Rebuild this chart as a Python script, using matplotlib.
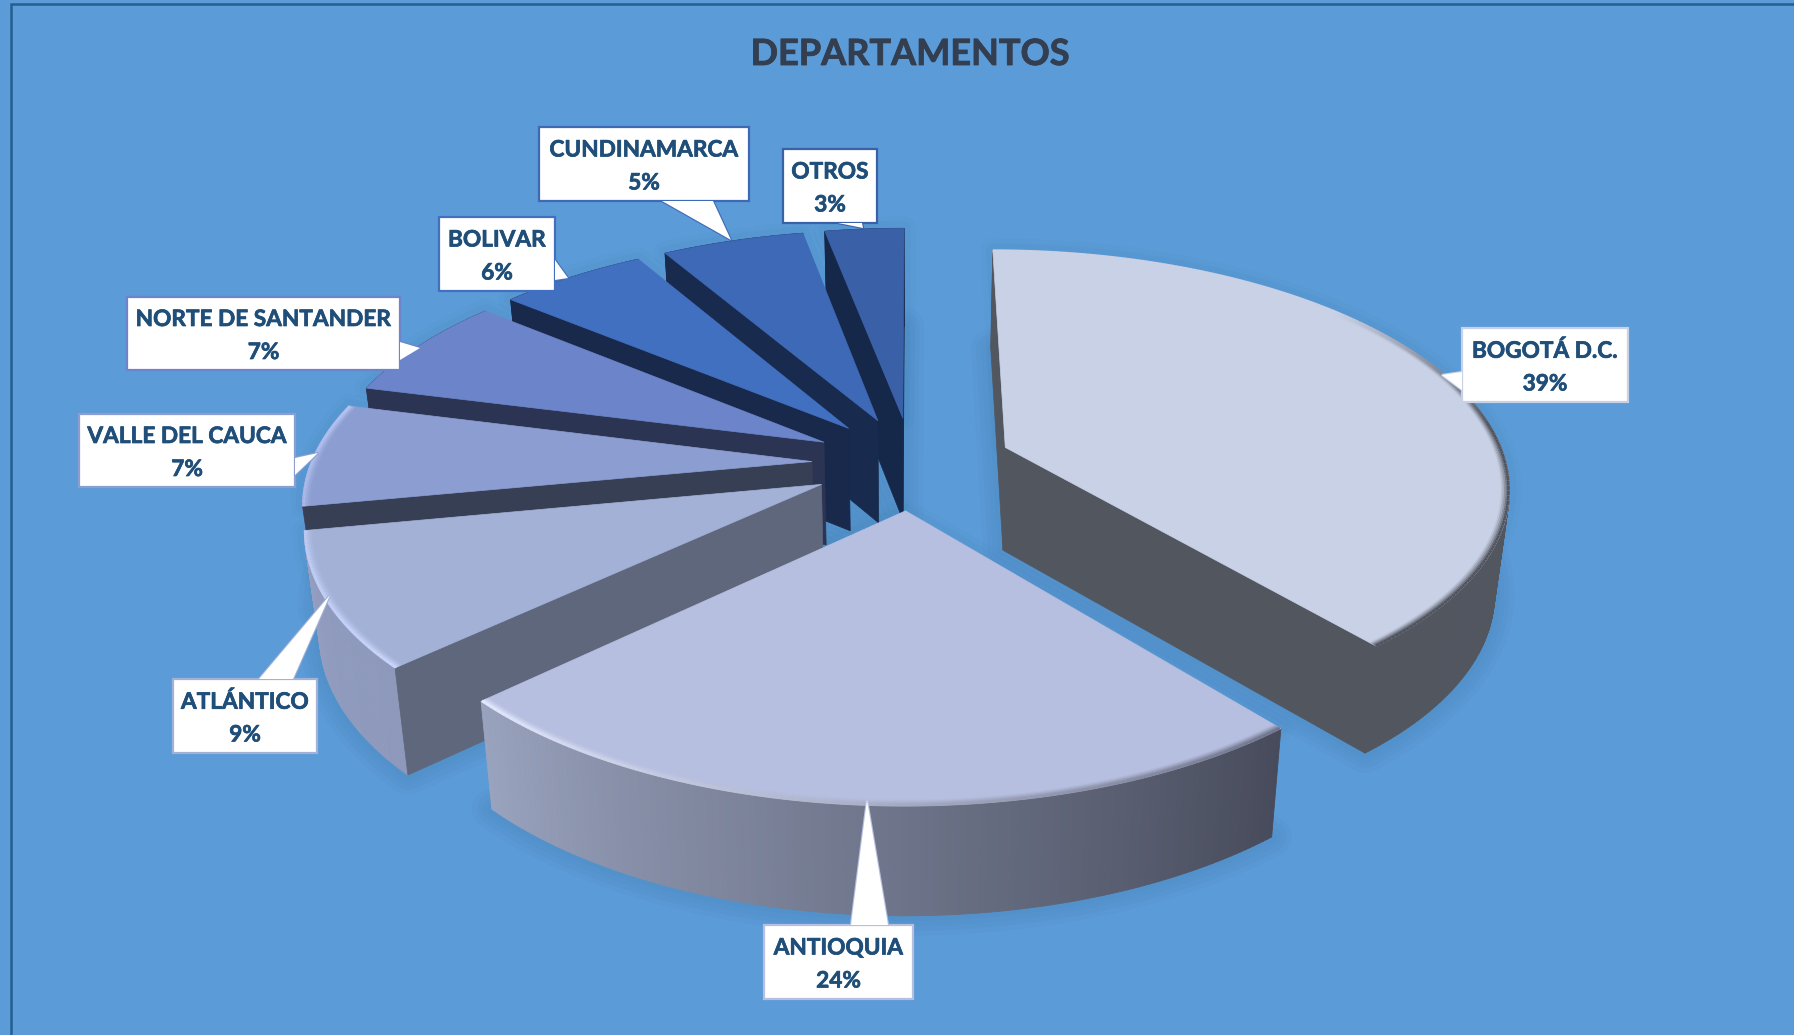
import numpy as np
import matplotlib
matplotlib.use("Agg")
import matplotlib.pyplot as plt
import matplotlib.patheffects as pe
from matplotlib.collections import PolyCollection, LineCollection
from matplotlib.colors import to_rgb
from matplotlib.patches import Polygon, Rectangle

# ---------- data ----------
departments = ["BOGOTÁ D.C.", "ANTIOQUIA", "ATLÁNTICO", "VALLE DEL CAUCA",
               "NORTE DE SANTANDER", "BOLIVAR", "CUNDINAMARCA", "OTROS"]
shares = [39, 24, 9, 7, 7, 5.6, 5.4, 3]
title = "DEPARTAMENTOS"

# ---------- styles ----------
top_colors = ["#C9D1E6", "#B6BFE0", "#A3B1D7", "#8C9DD1", "#6C85CA", "#4270C0", "#3E69B6", "#3A61A8"]
radial_colors = ["#52565F", "#474B5B", "#5F677C", "#373F55", "#2B3553", "#18294C", "#182A4D", "#16284A"]
wall_from = ["#52565F", "#474B5B", "#8E99BB", "#8C9DD1", "#2B3553", "#18294C", "#182A4D", "#16284A"]
wall_to = ["#52565F", "#9AA3BE", "#939EC0", "#8C9DD1", "#2B3553", "#18294C", "#182A4D", "#16284A"]
# rim bevel colour at start and end of each slice's arc (None = no bevel)
rim_from = ["#C9D1E6", "#70758C", "#C8D4FA", "#A9B8E8", None, None, None, None]
rim_to = ["#50545E", "#E2E9FF", "#BCC9F2", "#B4C2F0", None, None, None, None]
BG = "#5B9BD7"
TEXT = "#1F4E79"

# callout layout in reference pixels: box (x0, y0, x1, y1) and tail (base a, tip, base b)
boxes = [(1462, 328, 1628, 402), (764, 925, 913, 999), (173, 679, 317, 753), (79, 414, 295, 487),
         (127, 297, 400, 370), (439, 217, 555, 291), (539, 127, 749, 201), (783, 149, 877, 223)]
tails = [((1462, 372), (1442, 375), (1462, 390)),
         ((851, 925), (867, 800), (888, 925)),
         ((259, 679), (330, 595), (293, 679)),
         ((295, 458), (318, 453), (295, 475)),
         ((400, 342), (420, 348), (400, 360)),
         ((555, 260), (568, 278), (555, 280)),
         ((662, 201), (731, 240), (713, 201)),
         ((838, 223), (863, 228), (862, 223))]

# ---------- geometry ----------
CX, CY = 912.0, 463.0      # pie centre on the page
RX, RY = 501.0, 232.3      # projected radii
PERSP = 0.156              # perspective strength
EXPLODE = 0.20             # explosion, share of the radius
SHRINK = 0.975             # base is slightly narrower than the top


def project(xp, yp):
    s = 1.0 / (1.0 - PERSP * yp)
    return np.column_stack([CX + RX * np.atleast_1d(xp) * s, CY + RY * np.atleast_1d(yp) * s])


def lower(pts):
    pts = np.atleast_2d(pts)
    depth = 103.0 + 0.02 * (pts[:, 1] - 458.0)
    return np.column_stack([CX + (pts[:, 0] - CX) * SHRINK, pts[:, 1] + depth])


def mix(a, b, t):
    a, b = np.array(to_rgb(a)), np.array(to_rgb(b))
    return a + (b - a) * t


def outer(i, radius=1.0):
    ox, oy, th = slices[i]
    return project(ox + radius * np.sin(th), oy - radius * np.cos(th))


def faces_viewer(apex, edge, inside):
    """A radial wall shows when moving down the page leaves the slice's top face."""
    d = edge - apex
    m = inside - apex
    return (d[0] * m[1] - d[1] * m[0]) * d[0] < 0


edges = np.cumsum([0] + shares) / sum(shares) * 2 * np.pi
slices = []
for i in range(len(shares)):
    a0, a1 = edges[i], edges[i + 1]
    mid = (a0 + a1) / 2
    slices.append((EXPLODE * np.sin(mid), -EXPLODE * np.cos(mid),
                   np.linspace(a0, a1, max(int(shares[i] * 6), 16))))

# ---------- figure ----------
fig = plt.figure(figsize=(17.94, 10.35), dpi=100, facecolor=BG)
ax = fig.add_axes([0, 0, 1, 1])
ax.set_xlim(0, 1794)
ax.set_ylim(1035, 0)
ax.axis("off")
ax.add_patch(Rectangle((0, 0), 1794, 1035, fc=BG, ec="none", zorder=0))
ax.plot([11, 11, 1794], [1035, 4, 4], color="#255E91", lw=1.8, zorder=1, solid_joinstyle="miter")

# soft shadows
for i in range(len(shares)):
    apex = project(slices[i][0], slices[i][1])[0]
    poly = np.vstack([apex, outer(i)])
    base = lower(poly)
    for w in (40, 30, 20, 10):
        ax.add_patch(Polygon(base, closed=True, fc="none", ec="#1F4E79", lw=w * 0.72,
                             alpha=0.028, zorder=2, joinstyle="round"))
    for w in (24, 14):
        ax.add_patch(Polygon(poly, closed=True, fc="none", ec="#1F4E79", lw=w * 0.72,
                             alpha=0.022, zorder=2, joinstyle="round"))

order = [7, 6, 5, 4, 3, 2, 0, 1]
z = 3.0
for i in order:
    apex = project(slices[i][0], slices[i][1])[0]
    arc = outer(i)
    low_arc = lower(arc)
    low_apex = lower(apex)[0]
    inside = arc[len(arc) // 2]
    # outer wall with gradient
    quads = [[arc[k], arc[k + 1], low_arc[k + 1], low_arc[k]] for k in range(len(arc) - 1)]
    ts = np.linspace(0, 1, len(quads))
    cols = [mix(wall_from[i], wall_to[i], t) for t in ts]
    ax.add_collection(PolyCollection(quads, facecolors=cols, edgecolors=cols, linewidths=0.6, zorder=z))
    z += 0.01
    # radial faces that can be seen
    for edge, low in ((arc[-1], low_arc[-1]), (arc[0], low_arc[0])):
        if faces_viewer(apex, edge, inside):
            ax.add_patch(Polygon([apex, edge, low, low_apex], closed=True, fc=radial_colors[i],
                                 ec=radial_colors[i], lw=0.5, zorder=z))
    z += 0.01
    # top face
    ax.add_patch(Polygon(np.vstack([apex, arc]), closed=True, fc=top_colors[i], ec=top_colors[i],
                         lw=0.5, zorder=z))
    z += 0.01
    # bevel on the rim
    if rim_from[i] is not None:
        for inset, alpha in ((0.014, 0.10), (0.011, 0.20), (0.008, 0.35), (0.005, 0.6), (0.002, 1.0)):
            pts = outer(i, 1 - inset)
            segs = [[pts[k], pts[k + 1]] for k in range(len(pts) - 1)]
            ts = np.linspace(0, 1, len(segs))
            if i == 0:  # the dark bevel only starts past the right-hand side
                ts = np.clip((ts - 0.35) / 0.25, 0, 1)
            cs = [(*mix(rim_from[i], rim_to[i], t), alpha) for t in ts]
            ax.add_collection(LineCollection(segs, colors=cs, linewidths=2.0, zorder=z))
    z += 0.01

# callouts
FONT = "Lato"
thick = [pe.withStroke(linewidth=0.5, foreground=TEXT)]
for name, share, box, tail, col in zip(departments, shares, boxes, tails, top_colors):
    x0, y0, x1, y1 = box
    ax.add_patch(Polygon(tail, closed=True, fc="white", ec=col, lw=1.6, zorder=20, joinstyle="miter"))
    ax.add_patch(Rectangle((x0, y0), x1 - x0, y1 - y0, fc="white", ec=col, lw=1.6, zorder=21))
    ax.add_patch(Polygon(tail, closed=True, fc="white", ec="none", zorder=22))
    ax.text((x0 + x1) / 2, (y0 + y1) / 2 - 14, name, ha="center", va="center", color=TEXT,
            fontsize=16.3, fontweight="bold", family=FONT, zorder=23, path_effects=thick)
    ax.text((x0 + x1) / 2, (y0 + y1) / 2 + 19, f"{share:.0f}%", ha="center", va="center", color=TEXT,
            fontsize=16.3, fontweight="bold", family=FONT, zorder=23, path_effects=thick)

ax.text(910, 54.5, title, ha="center", va="center", color="#333F50", fontsize=26, fontweight="bold",
        family=FONT, zorder=23, path_effects=[pe.withStroke(linewidth=0.6, foreground="#333F50")])

fig.savefig("out.png", dpi=100, facecolor=BG)
